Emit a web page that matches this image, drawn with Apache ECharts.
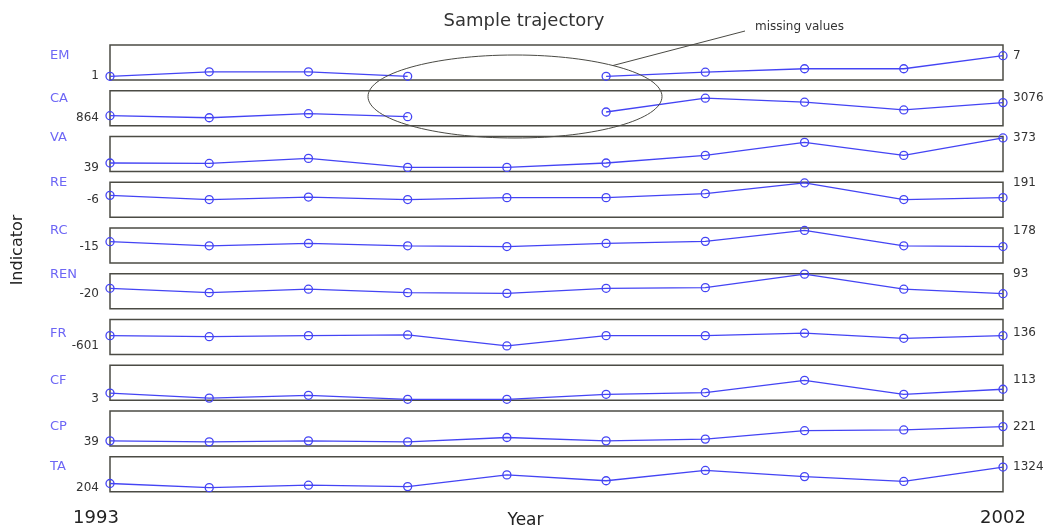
<!DOCTYPE html>
<html>
<head>
<meta charset="utf-8">
<style>
  html, body { margin: 0; padding: 0; background: #fff; }
  #chart { width: 1048px; height: 528px; }
</style>
<script src="https://cdn.jsdelivr.net/npm/echarts@6/dist/echarts.min.js"></script>
</head>
<body>
<div id="chart"></div>
<script>
// Yearly observations, one small array per indicator (null = missing year)
const years = ['1993', '1994', '1995', '1996', '1997', '1998', '1999', '2000', '2001', '2002'];
const indicators = ['EM', 'CA', 'VA', 'RE', 'RC', 'REN', 'FR', 'CF', 'CP', 'TA'];

const emValues  = [1, 2.3, 2.3, 1, null, 1, 2.2, 3.2, 3.2, 7];
const caValues  = [1092, 864, 1320, 980, null, 1514, 3076, 2620, 1742, 2574];
const vaValues  = [89, 84, 141, 39, 39, 89, 175, 323, 175, 373];
const reValues  = [44, -6, 24, -6, 17, 17, 64, 191, -6, 17];
const rcValues  = [43, -6, 22, -6, -15, 22, 47, 178, -6, -15];
const renValues = [11, -14, 6, -14, -18, 11, 15, 93, 6, -20];
const frValues  = [-7, -66, -7, 35, -601, -7, -7, 136, -161, -7];
const cfValues  = [39, 10, 26, 3, 3, 32, 42, 113, 32, 61];
const cpValues  = [51, 39, 51, 39, 91, 51, 72, 172, 181, 221];
const taValues  = [428, 204, 338, 260, 898, 579, 1139, 803, 540, 1324];

const seriesValues = [emValues, caValues, vaValues, reValues, rcValues,
                      renValues, frValues, cfValues, cpValues, taValues];

// Layout: stacked strips, each with its own vertical range
const PANEL_TOP = 45;
const PANEL_STEP = 45.75;
const PANEL_H = 35;
// blank space below the minimum / above the maximum, as a share of each strip's range
const panelPad = [
  [0.18, 0.52], [0.41, 0.38], [0.14, 0.05], [1.06, 0.04], [1.02, 0.15],
  [0.77, 0.02], [0.67, 1.07], [0.05, 0.79], [0.27, 1.02], [0.20, 0.50]
];

const LINE_COLOR = '#4444f4';
const NAME_COLOR = '#6d66f5';
const TEXT_COLOR = '#333';
const FONT = 'DejaVu Sans';
const last = indicators.length - 1;

const grids = [], xAxes = [], yAxes = [], series = [];

indicators.forEach((name, i) => {
  const vals = seriesValues[i].filter(v => v !== null);
  const lo = Math.min(...vals), hi = Math.max(...vals);
  const span = hi - lo;

  grids.push({
    left: 110, right: 45, top: PANEL_TOP + i * PANEL_STEP, height: PANEL_H,
    outerBoundsMode: 'none', containLabel: false,
    show: true, borderColor: '#4b4b44', borderWidth: 1.5, backgroundColor: 'transparent'
  });

  xAxes.push({
    gridIndex: i, type: 'category', data: years, boundaryGap: false,
    axisLine: { show: false }, axisTick: { show: false }, splitLine: { show: false },
    axisLabel: i === last ? {
      show: true, margin: 18,
      interval: (idx) => idx === 0 || idx === years.length - 1,
      formatter: (v, idx) => idx === 0 ? '{first|' + v + '}' : '{std|' + v + '}',
      rich: {
        first: { fontFamily: FONT, fontSize: 18, color: '#222', padding: [0, 28, 0, 0] },
        std: { fontFamily: FONT, fontSize: 18, color: '#222' }
      }
    } : { show: false },
    name: i === last ? 'Year' : '',
    nameLocation: 'middle', nameGap: 20, nameMoveOverlap: false,
    nameTextStyle: { fontFamily: FONT, fontSize: 17, color: '#222',
                     verticalAlign: 'top', lineHeight: 17, padding: [0, 62, 0, 0] }
  });

  yAxes.push({
    gridIndex: i, type: 'value', show: false,
    min: lo - panelPad[i][0] * span,
    max: hi + panelPad[i][1] * span
  });

  series.push({
    type: 'line', name: name,
    xAxisIndex: i, yAxisIndex: i,
    data: seriesValues[i],
    clip: false,
    symbol: 'circle', symbolSize: 8,
    lineStyle: { color: LINE_COLOR, width: 1.3 },
    itemStyle: { color: 'rgba(0,0,0,0)', borderColor: LINE_COLOR, borderWidth: 1.3 },
    emphasis: { disabled: true },
    markLine: {
      silent: true, symbol: ['none', 'none'],
      lineStyle: { color: 'rgba(0,0,0,0)', width: 0 },
      data: [
        { type: 'max', label: { position: 'start', align: 'left', distance: 60,
            formatter: name, color: NAME_COLOR, fontFamily: FONT, fontSize: 13 } },
        { type: 'max', label: { position: 'end', distance: 10,
            formatter: '{c}', color: TEXT_COLOR, fontFamily: FONT, fontSize: 12 } },
        { type: 'min', label: { position: 'start', distance: 11,
            formatter: '{c}', color: TEXT_COLOR, fontFamily: FONT, fontSize: 12 } }
      ]
    }
  });
});

const chart = echarts.init(document.getElementById('chart'), null, { renderer: 'canvas' });
chart.setOption({
  backgroundColor: '#fff',
  animation: false,
  title: {
    text: 'Sample trajectory', left: 'center', top: 7,
    textStyle: { fontFamily: FONT, fontSize: 18, fontWeight: 'normal', color: '#333' }
  },
  grid: grids,
  xAxis: xAxes,
  yAxis: yAxes,
  series: series,
  graphic: [
    {
      type: 'text', x: 18, y: 250, rotation: Math.PI / 2,
      style: { text: 'Indicator', fontFamily: FONT, fontSize: 16, fill: '#222',
               textAlign: 'center', textVerticalAlign: 'middle' }
    },
    // callout marking the gap in EM and CA
    {
      type: 'ellipse', z: 10,
      shape: { cx: 515, cy: 96.5, rx: 147, ry: 41.5 },
      style: { fill: 'none', stroke: '#4a4a44', lineWidth: 1 }
    },
    {
      type: 'line', z: 10,
      shape: { x1: 613, y1: 65.5, x2: 745, y2: 31 },
      style: { stroke: '#4a4a44', lineWidth: 1 }
    },
    {
      type: 'text', z: 10, x: 755, y: 27,
      style: { text: 'missing values', fontFamily: FONT, fontSize: 12, fill: '#333',
               textVerticalAlign: 'middle' }
    }
  ]
});
</script>
</body>
</html>
